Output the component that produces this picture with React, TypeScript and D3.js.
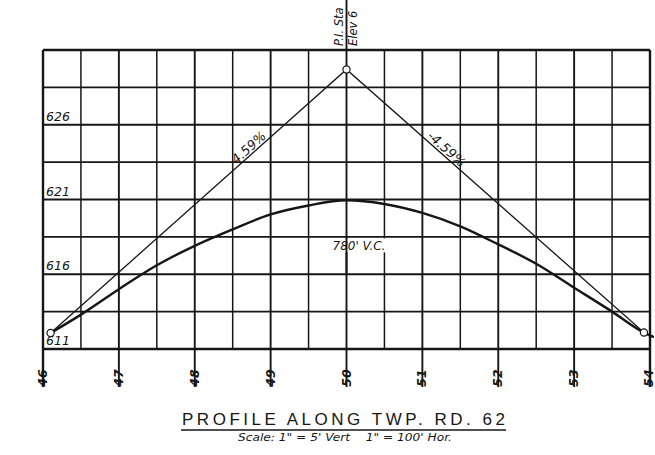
import React from "react";
import * as d3 from "d3";

// ---- data ----
const stationTicks = [46, 47, 48, 49, 50, 51, 52, 53, 54];
const gridStations = [46, 46.5, 47, 47.5, 48, 48.5, 49, 49.5, 50, 50.5, 51, 51.5, 52, 52.5, 53, 53.5, 54];
const gridElevations = [611, 613.5, 616, 618.5, 621, 623.5, 626, 628.5, 631];
const elevLabels = [611, 616, 621, 626];

// grade tangents: PVC, PI, PVT (and run-out to the sheet edge)
const tangentStations = [46.1, 50, 53.92, 54.05];
const tangentElev = [612.07, 629.7, 612.1, 611.8];

// vertical curve profile
const curveStations = [46.1, 46.5, 47, 47.5, 48, 48.5, 49, 49.5, 50, 50.5, 51, 51.5, 52, 52.5, 53, 53.5, 53.92, 54.05];
const curveElev = [612.07, 613.3, 615.0, 616.6, 617.9, 619.0, 620.0, 620.6, 620.95, 620.7, 620.1, 619.2, 618.0, 616.7, 615.1, 613.5, 612.1, 611.8];

const pointStations = [46.1, 50, 53.92];
const pointElev = [612.07, 629.7, 612.1];

const gradeLabels = ["4.59%", "-4.59%"];
const curveLabel = "780' V.C.";
const piLabel1 = "P.I. Sta";
const piLabel2 = "Elev 6";
const title = "PROFILE ALONG TWP. RD. 62";
const subtitle = "Scale: 1\" = 5' Vert    1\" = 100' Hor.";

const W = 655;
const H = 455;
const INK = "#161616";
const hand = "'DejaVu Sans', 'Liberation Sans', sans-serif";

export default function App() {
  const x = d3.scaleLinear().domain([46, 54]).range([43, 650]);
  const y = d3.scaleLinear().domain([611, 631]).range([349, 50]);

  const tangentLine = d3
    .line<number>()
    .x((_, i) => x(tangentStations[i]))
    .y((d) => y(d));
  const curveLine = d3
    .line<number>()
    .x((_, i) => x(curveStations[i]))
    .y((d) => y(d))
    .curve(d3.curveMonotoneX);

  // grade label geometry
  const lAng = (Math.atan2(y(tangentElev[1]) - y(tangentElev[0]), x(tangentStations[1]) - x(tangentStations[0])) * 180) / Math.PI;
  const rAng = (Math.atan2(y(tangentElev[2]) - y(tangentElev[1]), x(tangentStations[2]) - x(tangentStations[1])) * 180) / Math.PI;
  const lStation = 48.75;
  const lElev = tangentElev[0] + ((tangentElev[1] - tangentElev[0]) * (lStation - tangentStations[0])) / (tangentStations[1] - tangentStations[0]);
  const rStation = 51.28;
  const rElev = tangentElev[1] + ((tangentElev[2] - tangentElev[1]) * (rStation - tangentStations[1])) / (tangentStations[2] - tangentStations[1]);

  const fullStation = (s: number) => Number.isInteger(s);

  return (
    <svg
      width={W}
      height={H}
      viewBox={`0 0 ${W} ${H}`}
      style={{ position: "absolute", left: 0, top: 0, background: "#fff" }}
    >
      <rect x={0} y={0} width={W} height={H} fill="#fff" />

      {/* grid: vertical lines */}
      {gridStations.map((s) => (
        <line
          key={`v${s}`}
          x1={x(s)}
          x2={x(s)}
          y1={s === 50 ? 0 : y(631)}
          y2={fullStation(s) ? 387 : y(611)}
          stroke={INK}
          strokeWidth={s === 46 || s === 54 ? 2.4 : fullStation(s) ? 1.9 : 1.5}
        />
      ))}
      {/* grid: horizontal lines */}
      {gridElevations.map((e) => (
        <line
          key={`h${e}`}
          x1={x(46)}
          x2={x(54)}
          y1={y(e)}
          y2={y(e)}
          stroke={INK}
          strokeWidth={e === 611 || e === 631 ? 2.6 : 1.9}
        />
      ))}

      {/* elevation labels */}
      {elevLabels.map((e) => (
        <text
          key={`el${e}`}
          x={x(46) + 3}
          y={y(e) - 4}
          fontFamily={hand}
          fontStyle="italic"
          fontSize={12.5}
          fill={INK}
        >
          {e}
        </text>
      ))}

      {/* station labels */}
      {stationTicks.map((s) => (
        <text
          key={`st${s}`}
          transform={`translate(${Math.min(x(s) + 4, 653)},378) rotate(-90)`}
          textAnchor="middle"
          fontFamily={hand}
          fontStyle="italic"
          fontWeight="bold"
          fontSize={12.5}
          fill={INK}
        >
          {s}
        </text>
      ))}

      {/* tangents */}
      <path
        d={tangentLine(tangentElev) || ""}
        fill="none"
        stroke={INK}
        strokeWidth={1.3}
      />
      {/* vertical curve */}
      <path
        d={curveLine(curveElev) || ""}
        fill="none"
        stroke={INK}
        strokeWidth={2.4}
      />

      {/* control points */}
      {pointStations.map((s, i) => (
        <circle
          key={`p${s}`}
          cx={x(s)}
          cy={y(pointElev[i])}
          r={3.6}
          fill="#fff"
          stroke={INK}
          strokeWidth={1.2}
        />
      ))}

      {/* grade labels */}
      <text
        transform={`translate(${x(lStation)},${y(lElev) - 3}) rotate(${lAng})`}
        textAnchor="middle"
        fontFamily={hand}
        fontStyle="italic"
        fontSize={13}
        fill={INK}
      >
        {gradeLabels[0]}
      </text>
      <text
        transform={`translate(${x(rStation)},${y(rElev) - 3}) rotate(${rAng})`}
        textAnchor="middle"
        fontFamily={hand}
        fontStyle="italic"
        fontSize={13}
        fill={INK}
      >
        {gradeLabels[1]}
      </text>

      {/* curve length label */}
      <rect x={x(49.75) + 3} y={y(618.5) + 1.5} width={62} height={14} fill="#fff" />
      <line x1={x(50)} x2={x(50)} y1={y(618.5)} y2={y(616)} stroke={INK} strokeWidth={1.9} />
      <text
        x={x(49.75) + 5}
        y={y(618.5) + 13}
        fontFamily={hand}
        fontStyle="italic"
        fontSize={12}
        fill={INK}
        style={{ whiteSpace: "pre" }}
      >
        {curveLabel}
      </text>

      {/* P.I. annotation (cut by the sheet edge in the original) */}
      <text
        transform={`translate(${x(50) - 4},46) rotate(-90)`}
        fontFamily={hand}
        fontStyle="italic"
        fontSize={11.5}
        fill={INK}
      >
        {piLabel1}
      </text>
      <text
        transform={`translate(${x(50) + 10},46) rotate(-90)`}
        fontFamily={hand}
        fontStyle="italic"
        fontSize={11.5}
        fill={INK}
      >
        {piLabel2}
      </text>

      {/* title block */}
      <text
        x={182}
        y={425}
        textLength={323}
        lengthAdjust="spacing"
        fontFamily="'Liberation Sans', Arial, sans-serif"
        fontSize={17}
        fill={INK}
      >
        {title}
      </text>
      <line x1={181} x2={506} y1={430} y2={430} stroke={INK} strokeWidth={1.6} />
      <text
        x={238}
        y={441}
        textLength={214}
        lengthAdjust="spacingAndGlyphs"
        fontFamily={hand}
        fontStyle="italic"
        fontSize={10}
        fill={INK}
        style={{ whiteSpace: "pre" }}
      >
        {subtitle}
      </text>
    </svg>
  );
}
